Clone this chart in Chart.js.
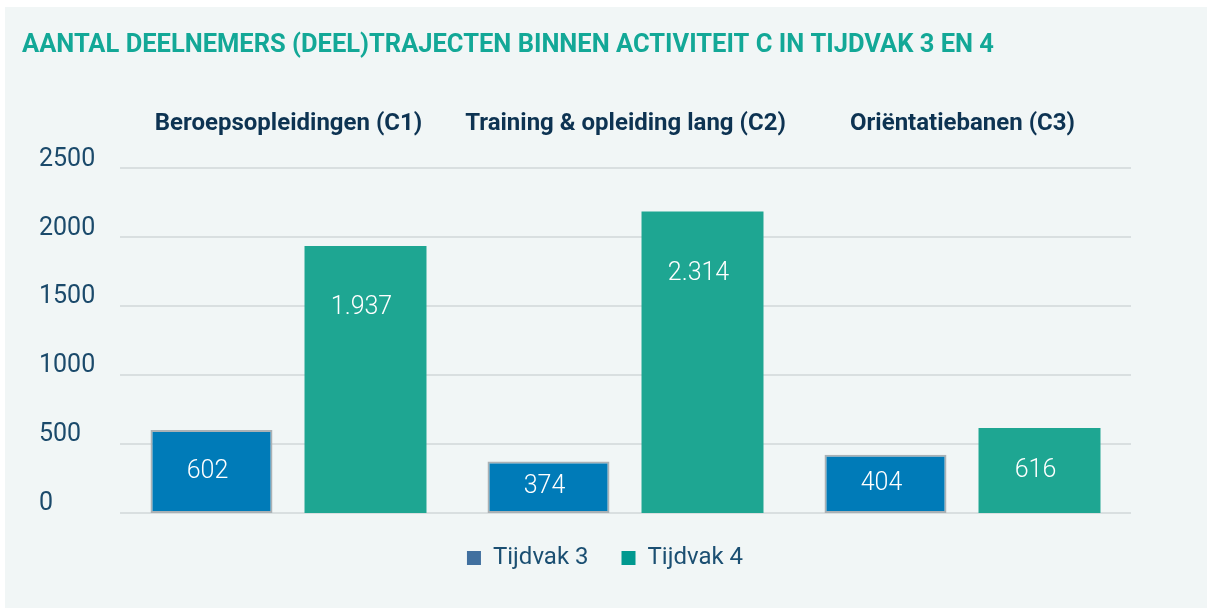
<!DOCTYPE html>
<html>
<head>
<meta charset="utf-8">
<script src="https://cdn.jsdelivr.net/npm/chart.js@4"></script>
<style>
  body { margin: 0; background: #ffffff; }
  #box { position: absolute; left: 5px; top: 7px; width: 1202px; height: 601px; background: #f1f6f6; }
</style>
</head>
<body>
<div id="box"><canvas id="g_tijdvak"></canvas></div>
<script>
const categories = ["Beroepsopleidingen (C1)", "Training & opleiding lang (C2)", "Oriëntatiebanen (C3)"];
const tijdvak3 = [602, 374, 423];
const tijdvak4 = [1937, 2187, 616];
// printed labels in the bars
const labels3 = ["602", "374", "404"];
const labels4 = ["1.937", "2.314", "616"];
const seriesNames = ["Tijdvak 3", "Tijdvak 4"];
const yTicks = [0, 500, 1000, 1500, 2000, 2500];

//Labels in de balken
const barLabels = {
    id: "barLabels",
    afterDatasetsDraw(chart) {
        const ctx = chart.ctx;
        const texts = [labels3, labels4];
        ctx.save();
        ctx.fillStyle = "#ffffff";
        ctx.font = "300 25px Roboto";
        ctx.textAlign = "center";
        ctx.textBaseline = "middle";
        chart.data.datasets.forEach(function(ds, i) {
            chart.getDatasetMeta(i).data.forEach(function(bar, j) {
                let mid = (bar.y + bar.base) / 2;
                let y = Math.min(mid, bar.y + 62);
                ctx.fillText(texts[i][j], bar.x - 4, y);
            });
        });
        ctx.restore();
    }
};

// lege as als ruimte-opvuller
function spacer(side, width) {
    return {
        type: "linear",
        position: side,
        weight: 1,
        grid: { display: false, drawTicks: false },
        border: { display: false },
        ticks: { display: false },
        afterFit: function(scale) { scale.width = width; }
    };
}

function tijdvakChart() {
    const ctx = document.getElementById("g_tijdvak").getContext("2d");
    let conData = {
        labels: categories,
        datasets: [{
            label: seriesNames[0],
            data: tijdvak3,
            backgroundColor: "#007bb8",
            borderColor: "#aab1b5",
            borderWidth: 2,
            borderSkipped: false,
            categoryPercentage: 0.914,
            barPercentage: 0.792
        }, {
            label: seriesNames[1],
            data: tijdvak4,
            backgroundColor: "#1ea692",
            borderWidth: 0,
            categoryPercentage: 0.914,
            barPercentage: 0.792
        }]
    };
    let options = {
        responsive: true,
        maintainAspectRatio: false,
        animation: false,
        layout: { padding: { left: 17, right: 19, top: 0, bottom: 28 } },
        plugins: {
            title: {
                display: true,
                align: "start",
                text: "AANTAL DEELNEMERS (DEEL)TRAJECTEN BINNEN ACTIVITEIT C IN TIJDVAK 3 EN 4",
                color: "#13a897",
                font: { family: "Roboto", size: 25.5, weight: "bold" },
                padding: { top: 23, bottom: 19 }
            },
            legend: {
                position: "bottom",
                labels: {
                    color: "#1b4f72",
                    font: { family: "Roboto", size: 24 },
                    boxWidth: 14,
                    boxHeight: 14,
                    padding: 33,
                    generateLabels: function(chart) {
                        const legendColors = ["#41709f", "#00998f"];
                        return seriesNames.map(function(name, i) {
                            return {
                                text: name,
                                fillStyle: legendColors[i],
                                strokeStyle: legendColors[i],
                                lineWidth: 0,
                                fontColor: "#1b4f72",
                                datasetIndex: i
                            };
                        });
                    }
                }
            },
            tooltip: { enabled: false }
        },
        scales: {
            x: {
                display: true,
                ticks: { display: false },
                grid: { display: false, drawTicks: false },
                border: { display: false }
            },
            x2: {
                position: "top",
                type: "category",
                labels: categories,
                grid: { display: false, drawTicks: false },
                border: { display: false },
                ticks: {
                    color: "#0d3352",
                    padding: 30,
                    font: { family: "Roboto", size: 24, weight: "bold" }
                }
            },
            padL: spacer("left", 17),
            padR: spacer("right", 57),
            y: {
                min: 0,
                max: 2500,
                afterBuildTicks: function(scale) {
                    scale.ticks = yTicks.map(function(v) { return { value: v }; });
                },
                afterFit: function(scale) { scale.width = 81; },
                border: { display: false },
                grid: { color: "#d9dfe0", lineWidth: 2, drawTicks: false },
                ticks: {
                    color: "#1b4a6b",
                    crossAlign: "far",
                    labelOffset: -9,
                    font: { family: "Roboto", size: 25 },
                    callback: function(value) { return String(value); }
                }
            }
        }
    };
    const config = {
        type: "bar",
        data: conData,
        options: options,
        plugins: [barLabels]
    };
    const tijdvakBar = new Chart(ctx, config);
}

window.addEventListener("load", () => {
    tijdvakChart();
});
</script>
</body>
</html>
